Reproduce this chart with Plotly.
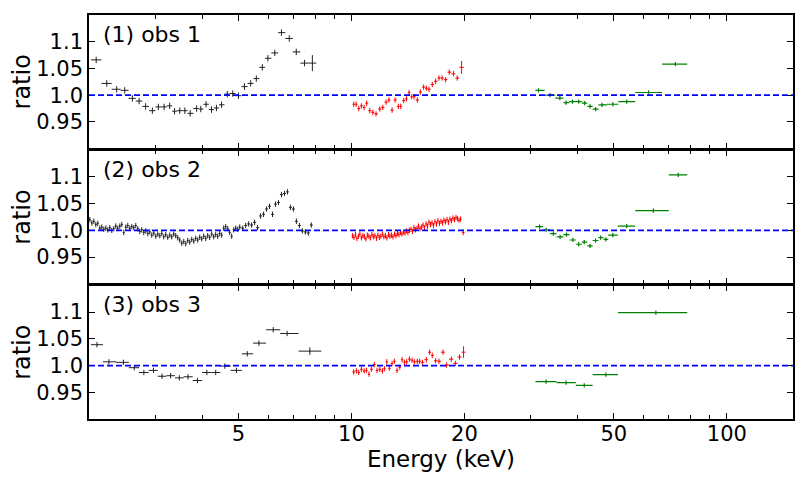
import numpy as np
import plotly.graph_objects as go
from plotly.subplots import make_subplots

# ---------------- data ----------------
# Panel 1 (obs 1)
obs1_black_E = [2.09, 2.23, 2.37, 2.49, 2.61, 2.72, 2.83, 2.95, 3.06, 3.17,
                3.28, 3.38, 3.49, 3.60, 3.72, 3.87, 3.97, 4.10, 4.24, 4.37,
                4.51, 4.67, 4.83, 5.00, 5.19, 5.39, 5.58, 5.79, 5.99, 6.25,
                6.51, 6.83, 7.13, 7.50, 7.87]
obs1_black_R = [1.066, 1.022, 1.011, 1.009, 0.994, 0.989, 0.979, 0.971, 0.978, 0.978,
                0.980, 0.970, 0.971, 0.971, 0.966, 0.975, 0.974, 0.983, 0.973, 0.976,
                0.982, 1.002, 1.003, 0.999, 1.016, 1.022, 1.031, 1.052, 1.069, 1.079,
                1.117, 1.106, 1.081, 1.060, 1.060]
obs1_black_Rerr = [0.006] * 34 + [0.015]

obs1_red_E = [10.14, 10.29, 10.46, 10.63, 10.81, 10.98, 11.19, 11.40, 11.63, 11.90,
              12.12, 12.37, 12.59, 12.83, 13.07, 13.34, 13.53, 13.78, 14.01, 14.24,
              14.47, 14.68, 14.98, 15.26, 15.57, 15.83, 16.09, 16.42, 16.76, 17.11,
              17.43, 17.82, 18.22, 18.71, 19.13, 19.65]
obs1_red_R = [0.983, 0.983, 0.975, 0.980, 0.977, 0.985, 0.971, 0.968, 0.965, 0.974,
              0.977, 0.987, 0.991, 0.972, 0.991, 0.979, 0.979, 0.990, 0.993, 1.005,
              0.997, 0.997, 0.991, 1.006, 1.015, 1.013, 1.011, 1.020, 1.026, 1.032,
              1.032, 1.029, 1.043, 1.040, 1.032, 1.052]
obs1_red_Rerr = [0.005] * 35 + [0.012]

obs1_green_E = [31.5, 33.8, 35.9, 37.3, 38.8, 40.3, 41.8, 43.2, 44.7, 46.5, 49.7, 54.1, 61.9, 72.9]
obs1_green_R = [1.009, 1.000, 0.9945, 0.986, 0.988, 0.988, 0.985, 0.979, 0.974, 0.982,
                0.983, 0.988, 1.005, 1.058]
obs1_green_edges = [30.9, 32.7, 34.9, 36.7, 38.0, 39.6, 41.1, 42.5, 43.9, 45.5,
                    47.9, 51.4, 57.0, 67.2, 78.4]

# Panel 2 (obs 2)
obs2_black_E = [2.010, 2.035, 2.060, 2.085, 2.111, 2.137, 2.163, 2.190, 2.217, 2.244,
                2.272, 2.300, 2.328, 2.357, 2.386, 2.416, 2.445, 2.475, 2.506, 2.537,
                2.568, 2.600, 2.632, 2.664, 2.697, 2.731, 2.764, 2.798, 2.833, 2.868,
                2.903, 2.939, 2.975, 3.012, 3.049, 3.087, 3.125, 3.163, 3.202, 3.242,
                3.282, 3.322, 3.363, 3.405, 3.447, 3.489, 3.532, 3.576, 3.620, 3.665,
                3.710, 3.755, 3.802, 3.848, 3.896, 3.944, 3.993, 4.042, 4.092, 4.142,
                4.193, 4.245, 4.297, 4.350, 4.404, 4.458, 4.513, 4.569, 4.625, 4.682,
                4.740, 4.798, 4.858, 4.918, 4.978,
                5.040, 5.133, 5.228, 5.324, 5.422, 5.522, 5.624, 5.728, 5.834, 5.942,
                6.051, 6.163, 6.277, 6.393, 6.511, 6.631, 6.754, 6.879, 7.006, 7.135,
                7.267, 7.401, 7.538, 7.677, 7.819]
obs2_black_R = [1.020, 1.014, 1.017, 1.011, 1.013, 1.004, 1.006, 1.002, 1.004, 1.001,
                1.005, 1.000, 1.003, 1.008, 1.004, 1.008, 1.011, 0.996, 1.006, 1.009,
                1.004, 1.007, 1.005, 1.009, 1.003, 0.998, 1.001, 0.996, 0.999, 0.994,
                0.997, 0.991, 0.995, 0.989, 0.993, 0.990, 0.994, 0.988, 0.992, 0.987,
                0.991, 0.988, 0.993, 0.990, 0.986, 0.982, 0.976, 0.979, 0.975, 0.981,
                0.978, 0.983, 0.980, 0.985, 0.982, 0.987, 0.984, 0.989, 0.985, 0.990,
                0.987, 0.993, 0.988, 0.992, 0.989, 0.994, 0.991, 1.004, 1.007, 1.003,
                0.996, 0.989, 1.001, 1.004, 1.002,
                1.006, 1.004, 1.009, 1.012, 1.010, 1.015, 1.005, 1.027, 1.030, 1.040,
                1.045, 1.030, 1.049, 1.052, 1.067, 1.069, 1.072, 1.043, 1.040, 1.017,
                1.009, 0.999, 0.997, 0.995, 1.010]
obs2_black_Rerr = [0.005] * 100

obs2_red_E = [10.06, 10.15, 10.25, 10.34, 10.44, 10.53, 10.63, 10.73, 10.83, 10.93, 11.03,
              11.13, 11.23, 11.34, 11.44, 11.55, 11.66, 11.76, 11.87, 11.98, 12.09, 12.20,
              12.32, 12.43, 12.55, 12.66, 12.78, 12.90, 13.02,
              13.14, 13.26, 13.38, 13.51, 13.63, 13.76, 13.89, 14.01, 14.14, 14.27,
              14.41, 14.54, 14.68, 14.81, 14.95, 15.09, 15.23, 15.37, 15.51, 15.65,
              15.80, 15.94, 16.09, 16.24, 16.39, 16.54, 16.69, 16.85, 17.00, 17.16,
              17.32, 17.48, 17.64, 17.80, 17.97, 18.13, 18.30, 18.47, 18.64, 18.82,
              18.99, 19.17, 19.34, 19.52, 19.85]
obs2_red_R = [0.990, 0.987, 0.992, 0.985, 0.989, 0.993, 0.986, 0.990, 0.988, 0.984, 0.991,
              0.989, 0.986, 0.992, 0.988, 0.990, 0.985, 0.991, 0.987, 0.989, 0.993, 0.988,
              0.990, 0.986, 0.992, 0.989, 0.991, 0.988, 0.993,
              0.990, 0.994, 0.992, 0.996, 0.993, 0.997, 0.995, 0.999, 0.996, 1.000,
              1.002, 0.998, 1.005, 1.001, 1.004, 1.008, 1.003, 1.006, 1.010, 1.005,
              1.012, 1.008, 1.015, 1.011, 1.014, 1.009, 1.016, 1.012, 1.018, 1.013,
              1.017, 1.014, 1.019, 1.016, 1.020, 1.015, 1.021, 1.018, 1.023, 1.020,
              1.024, 1.022, 1.019, 1.021, 0.996]
obs2_red_Rerr = [0.005] * 74 + [0.011]

obs2_green_E = [31.7, 33.0, 34.5, 35.96, 37.4, 38.9, 40.3, 41.7, 43.2, 44.7, 46.1, 47.6,
                49.7, 54.1, 63.7, 74.2]
obs2_green_R = [1.007, 1.001, 0.994, 0.988, 0.992, 0.982, 0.974, 0.978, 0.971, 0.981,
                0.9865, 0.983, 0.991, 1.008, 1.037, 1.104]
obs2_green_edges = [30.9, 32.4, 33.8, 35.2, 36.7, 38.1, 39.6, 41.1, 42.5, 43.9, 45.5,
                    46.9, 48.3, 51.2, 57.0, 70.0, 78.4]

# Panel 3 (obs 3)
obs3_black_E = [2.10, 2.26, 2.47, 2.64, 2.80, 2.97, 3.13, 3.30, 3.48, 3.67,
                3.89, 4.12, 4.35, 4.60, 4.94, 5.28, 5.67, 6.19, 6.74, 7.75]
obs3_black_R = [1.039, 1.007, 1.006, 0.996, 0.987, 0.991, 0.980, 0.981, 0.977, 0.979,
                0.972, 0.987, 0.987, 0.999, 0.991, 1.022, 1.042, 1.067, 1.060, 1.027]
obs3_black_Rerr = [0.005] * 19 + [0.007]

obs3_red_E = [10.14, 10.31, 10.46, 10.63, 10.81, 10.96, 11.14, 11.30, 11.51, 11.70,
              11.90, 12.09, 12.24, 12.42, 12.62, 12.83, 13.01, 13.23, 13.45, 13.64,
              13.84, 14.03, 14.27, 14.50, 14.71, 14.98, 15.19, 15.45, 15.83, 16.16,
              16.42, 16.76, 17.11, 17.54, 17.93, 18.45, 18.91, 19.41, 19.89]
obs3_red_R = [0.988, 0.990, 0.987, 0.993, 0.990, 0.991, 0.984, 0.993, 1.002, 0.991,
              0.993, 0.990, 0.994, 1.007, 0.995, 1.004, 1.008, 0.991, 0.997, 1.011,
              1.006, 1.007, 1.012, 1.010, 1.007, 1.008, 1.008, 1.006, 1.011, 1.025,
              1.019, 1.009, 1.008, 1.025, 1.001, 1.012, 1.004, 1.016, 1.025]
obs3_red_Rerr = [0.005] * 38 + [0.011]

obs3_green_E = [33.0, 37.3, 41.7, 47.6, 64.7]
obs3_green_R = [0.970, 0.968, 0.963, 0.983, 1.099]
obs3_green_edges = [30.9, 35.2, 39.6, 43.9, 51.3, 78.4]

panel_labels = ["(1) obs 1", "(2) obs 2", "(3) obs 3"]
ytick_vals = [0.95, 1.0, 1.05, 1.1]
ytick_text = ["0.95", "1.0", "1.05", "1.1"]
xtick_vals = [5, 10, 20, 50, 100]
xtick_text = ["5", "10", "20", "50", "100"]
xminor_vals = [2, 3, 4, 6, 7, 8, 9, 30, 40, 60, 70, 80, 90]

BLACK = "#222222"
RED = "#ff0000"
GREEN = "#008000"
FONT = "DejaVu Sans"
LW = 1.6

W, H = 798, 475
M = dict(l=81, r=13, t=5, b=64)
plot_h = H - M["t"] - M["b"]


def centre_edges(c):
    c = np.asarray(c, dtype=float)
    mid = np.sqrt(c[1:] * c[:-1])
    lo = np.concatenate([[c[0] ** 2 / mid[0]], mid])
    hi = np.concatenate([mid, [c[-1] ** 2 / mid[-1]]])
    return lo, hi


def trace(E, R, Rerr, color, edges=None, thick=1.0):
    E = np.asarray(E, dtype=float)
    if edges is None:
        lo, hi = centre_edges(E)
    else:
        ed = np.asarray(edges, dtype=float)
        lo, hi = ed[:-1], ed[1:]
    return go.Scatter(
        x=E, y=R, mode="markers",
        marker=dict(size=1, color=color),
        error_x=dict(type="data", symmetric=False, array=hi - E, arrayminus=E - lo,
                     width=0, thickness=thick, color=color),
        error_y=dict(type="data", array=Rerr, width=0, thickness=thick, color=color),
        showlegend=False, hoverinfo="skip",
    )


fig = make_subplots(rows=3, cols=1, shared_xaxes=True, vertical_spacing=LW / plot_h)

panels = [
    [(obs1_black_E, obs1_black_R, obs1_black_Rerr, BLACK, None),
     (obs1_red_E, obs1_red_R, obs1_red_Rerr, RED, None),
     (obs1_green_E, obs1_green_R, [0.004] * len(obs1_green_E), GREEN, obs1_green_edges)],
    [(obs2_black_E, obs2_black_R, obs2_black_Rerr, BLACK, None),
     (obs2_red_E, obs2_red_R, obs2_red_Rerr, RED, None),
     (obs2_green_E, obs2_green_R, [0.004] * len(obs2_green_E), GREEN, obs2_green_edges)],
    [(obs3_black_E, obs3_black_R, obs3_black_Rerr, BLACK, None),
     (obs3_red_E, obs3_red_R, obs3_red_Rerr, RED, None),
     (obs3_green_E, obs3_green_R, [0.004] * len(obs3_green_E), GREEN, obs3_green_edges)],
]

for i, series in enumerate(panels):
    row = i + 1
    for E, R, Re, col, ed in series:
        fig.add_trace(trace(E, R, Re, col, ed, 1.2 if col == GREEN else 1.0), row=row, col=1)
    fig.add_hline(y=1.0, line=dict(color="#0000ff", dash="6px,3px", width=1.7), row=row, col=1)
    fig.add_annotation(text=panel_labels[i], xref="x domain", yref="y domain",
                       x=0.017, y=0.855, xanchor="left", yanchor="middle",
                       showarrow=False, font=dict(family=FONT, size=22, color="black"),
                       row=row, col=1)
    fig.update_yaxes(
        range=[0.9, 1.15], tickvals=ytick_vals, ticktext=ytick_text,
        ticks="inside", ticklen=6, tickwidth=1, tickcolor="black",
        showline=True, linecolor="black", linewidth=LW, mirror="allticks",
        showgrid=False, zeroline=False,
        tickfont=dict(family=FONT, size=21, color="black"),
        title=dict(text="ratio", font=dict(family=FONT, size=24, color="black"), standoff=4),
        row=row, col=1)
    fig.update_xaxes(
        type="log", range=[np.log10(2.0), np.log10(150.0)],
        tickvals=xtick_vals, ticktext=xtick_text,
        ticks="inside", ticklen=6, tickwidth=1, tickcolor="black",
        minor=dict(tickvals=xminor_vals, ticks="inside", ticklen=4, tickwidth=1, tickcolor="black"),
        showline=True, linecolor="black", linewidth=LW, mirror="allticks",
        showgrid=False, zeroline=False,
        tickfont=dict(family=FONT, size=21, color="black"),
        showticklabels=(row == 3),
        row=row, col=1)

fig.update_xaxes(title=dict(text="Energy (keV)", font=dict(family=FONT, size=23, color="black"),
                            standoff=2), ticklabelstandoff=-5, row=3, col=1)

fig.update_layout(
    width=W, height=H,
    margin=M,
    plot_bgcolor="white", paper_bgcolor="white",
    font=dict(family=FONT, color="black"),
)

fig.write_html("out.html")
